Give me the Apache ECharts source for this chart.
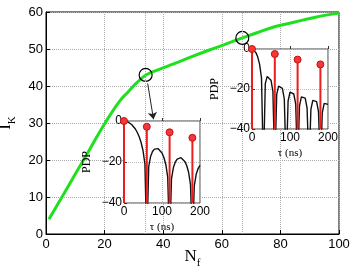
<!DOCTYPE html>
<html>
<head>
<meta charset="utf-8">
<script src="https://cdn.jsdelivr.net/npm/echarts@6/dist/echarts.min.js"></script>
<style>
  html, body { margin: 0; padding: 0; background: #fff; }
  #chart { width: 351px; height: 270px; }
</style>
</head>
<body>
<div id="chart"></div>
<script>
// main curve
var nf = [1, 5, 10, 15, 20, 25, 28, 31, 34, 38, 44, 50, 56, 62, 67, 72, 78, 85, 92, 100];
var ik = [4, 9.4, 16.2, 23, 29.8, 35.8, 38.4, 40.9, 42.9, 44.3, 46.1, 48, 49.8, 51.5, 53, 54.4, 56, 57.3, 58.6, 59.7];

// marked points (circles)
var markNf = [34, 67];
var markIk = [43, 53];

// PDP insets: delay axis (ns) and dB values
var tau = [0, 5, 10, 15, 20, 25, 30, 35, 40, 45, 50, 55, 60, 65, 70, 75, 80, 85, 90, 95, 100,
           105, 110, 115, 120, 125, 130, 135, 140, 145, 150, 155, 160, 165, 170, 175, 180, 185, 190, 195, 200];
// inset at Nf = 34 (nulls every 60 ns)
var pdpA = [0, -0.1, -0.4, -0.9, -1.7, -2.6, -3.9, -5.6, -7.7, -10.5, -14.4, -20.9, -60, -22.4, -17.3, -14.9, -13.7, -13.3, -13.5, -14.2, -15.6,
            -17.8, -21.2, -27.3, -60, -28.1, -22.7, -20, -18.6, -17.9, -17.9, -18.5, -19.7, -21.7, -25, -31, -60, -31.5, -26, -23.2, -21.6];
// inset at Nf = 67 (nulls every 30 ns)
var pdpB = [0, -0.4, -1.7, -3.9, -7.7, -14.4, -60, -17.3, -13.7, -13.5, -15.6, -21.2, -60, -22.7, -18.6, -17.9, -19.7, -25, -60, -26, -21.6,
            -20.8, -22.5, -27.6, -60, -28.4, -23.9, -23, -24.6, -29.6, -60, -30.2, -25.7, -24.8, -26.3, -31.3, -60, -31.8, -27.2, -26.2, -27.7];
// channel taps (stems)
var tapTau = [0, 60, 120, 180];
var tapA = [0, -2.8, -5.5, -8.2];
var tapB = [0, -2.5, -5.3, -7.7];

var SANS = 'Liberation Sans';
var SERIF = 'Liberation Serif';

function pairs(xs, ys) {
    return xs.map(function (x, i) { return [x, ys[i]]; });
}

function minus(v) {
    return v < 0 ? '\u2212' + Math.abs(v) : String(v);
}

// big letter + lowered small letter
var subRich = {
    big: {fontFamily: SERIF, fontSize: 17, lineHeight: 24, color: '#000'},
    sub: {fontFamily: SERIF, fontSize: 11, lineHeight: 11, verticalAlign: 'bottom', color: '#000'}
};

function renderStem(params, api) {
    var top = api.coord([api.value(0), api.value(1)]);
    var bot = api.coord([api.value(0), -40]);
    return {
        type: 'group',
        children: [
            {type: 'line', shape: {x1: top[0], y1: top[1], x2: bot[0], y2: bot[1]},
             style: {stroke: '#ee1c1c', lineWidth: 2}},
            {type: 'circle', shape: {cx: top[0], cy: top[1], r: 3.5},
             style: {fill: '#f23838', stroke: '#c81010', lineWidth: 1}}
        ]
    };
}

function insetX(idx) {
    return {
        type: 'value', gridIndex: idx, min: 0, max: 200, interval: 100, z: 6,
        name: '\u03c4 (ns)', nameLocation: 'middle', nameGap: 19,
        nameTextStyle: {fontFamily: SERIF, fontSize: 11, color: '#000'},
        axisLine: {show: false},
        axisTick: {inside: true, length: 3, lineStyle: {color: '#333'}},
        axisLabel: {fontFamily: SANS, fontSize: 12, color: '#000', margin: 3},
        splitLine: {show: true, lineStyle: {type: 'dotted', color: '#bbb'}}
    };
}

function insetY(idx) {
    return {
        type: 'value', gridIndex: idx, min: -40, max: 0, interval: 20, z: 6,
        name: 'PDP', nameLocation: 'middle', nameGap: 31, nameRotate: 90,
        nameTextStyle: {fontFamily: SERIF, fontSize: 12, color: '#000'},
        axisLine: {show: false},
        axisTick: {inside: true, length: 3, lineStyle: {color: '#333'}},
        axisLabel: {fontFamily: SANS, fontSize: 12, color: '#000', margin: 2, formatter: minus},
        splitLine: {show: true, lineStyle: {type: 'dotted', color: '#bbb'}}
    };
}

var chart = echarts.init(document.getElementById('chart'));
chart.setOption({
    animation: false,
    grid: [
        {left: 46, top: 12, width: 293, height: 222, show: true, borderColor: '#000', borderWidth: 1,
         outerBoundsMode: 'none', containLabel: false},
        {left: 124, top: 121, width: 76, height: 82, show: true, z: 5,
         outerBoundsMode: 'none', containLabel: false,
         backgroundColor: '#fff', borderColor: '#444', borderWidth: 1},
        {left: 252, top: 49, width: 76, height: 80, show: true, z: 5,
         outerBoundsMode: 'none', containLabel: false,
         backgroundColor: '#fff', borderColor: '#444', borderWidth: 1}
    ],
    xAxis: [
        {
            type: 'value', gridIndex: 0, min: 0, max: 100, interval: 20,
            name: '{big|N}{sub|f}', nameLocation: 'middle', nameGap: 11, nameMoveOverlap: false,
            nameTextStyle: {rich: subRich},
            axisLine: {lineStyle: {color: '#000'}},
            axisTick: {inside: true, length: 4, lineStyle: {color: '#000'}},
            axisLabel: {fontFamily: SANS, fontSize: 13, color: '#000', margin: 4},
            splitLine: {show: true, lineStyle: {type: 'dotted', color: '#aaa'}}
        },
        insetX(1),
        insetX(2)
    ],
    yAxis: [
        {
            type: 'value', gridIndex: 0, min: 0, max: 60, interval: 10,
            name: '{big|I}{sub|K}', nameLocation: 'middle', nameGap: 25, nameRotate: 90,
            nameTextStyle: {rich: subRich},
            axisLine: {lineStyle: {color: '#000'}},
            axisTick: {inside: true, length: 4, lineStyle: {color: '#000'}},
            axisLabel: {fontFamily: SANS, fontSize: 13, color: '#000', margin: 3},
            splitLine: {show: true, lineStyle: {type: 'dotted', color: '#aaa'}}
        },
        insetY(1),
        insetY(2)
    ],
    series: [
        {
            type: 'line', xAxisIndex: 0, yAxisIndex: 0,
            data: pairs(nf, ik), smooth: 0.4, showSymbol: false,
            lineStyle: {color: '#1fe01f', width: 3},
            markLine: {
                silent: true, symbol: ['none', 'arrow'], symbolSize: 7,
                label: {show: false},
                lineStyle: {color: '#222', width: 1, type: 'solid'},
                data: [[{coord: [34.7, 40.7]}, {coord: [36.7, 31.0]}]]
            }
        },
        {
            type: 'scatter', xAxisIndex: 0, yAxisIndex: 0, z: 3,
            data: pairs(markNf, markIk), symbolSize: 13,
            itemStyle: {color: 'rgba(0,0,0,0)', borderColor: '#000', borderWidth: 1.2, opacity: 1},
            markLine: {
                silent: true, symbol: 'none', label: {show: false},
                lineStyle: {color: '#aaa', width: 1, type: 'dotted'},
                data: markNf.map(function (v) { return {xAxis: v}; })
            }
        },
        {
            type: 'line', xAxisIndex: 1, yAxisIndex: 1, z: 7,
            data: pairs(tau, pdpA), showSymbol: false, clip: true,
            lineStyle: {color: '#111', width: 1.4}
        },
        {
            type: 'custom', xAxisIndex: 1, yAxisIndex: 1, z: 8,
            data: pairs(tapTau, tapA), renderItem: renderStem
        },
        {
            type: 'line', xAxisIndex: 2, yAxisIndex: 2, z: 7,
            data: pairs(tau, pdpB), showSymbol: false, clip: true,
            lineStyle: {color: '#111', width: 1.4}
        },
        {
            type: 'custom', xAxisIndex: 2, yAxisIndex: 2, z: 8,
            data: pairs(tapTau, tapB), renderItem: renderStem
        }
    ]
});
</script>
</body>
</html>
